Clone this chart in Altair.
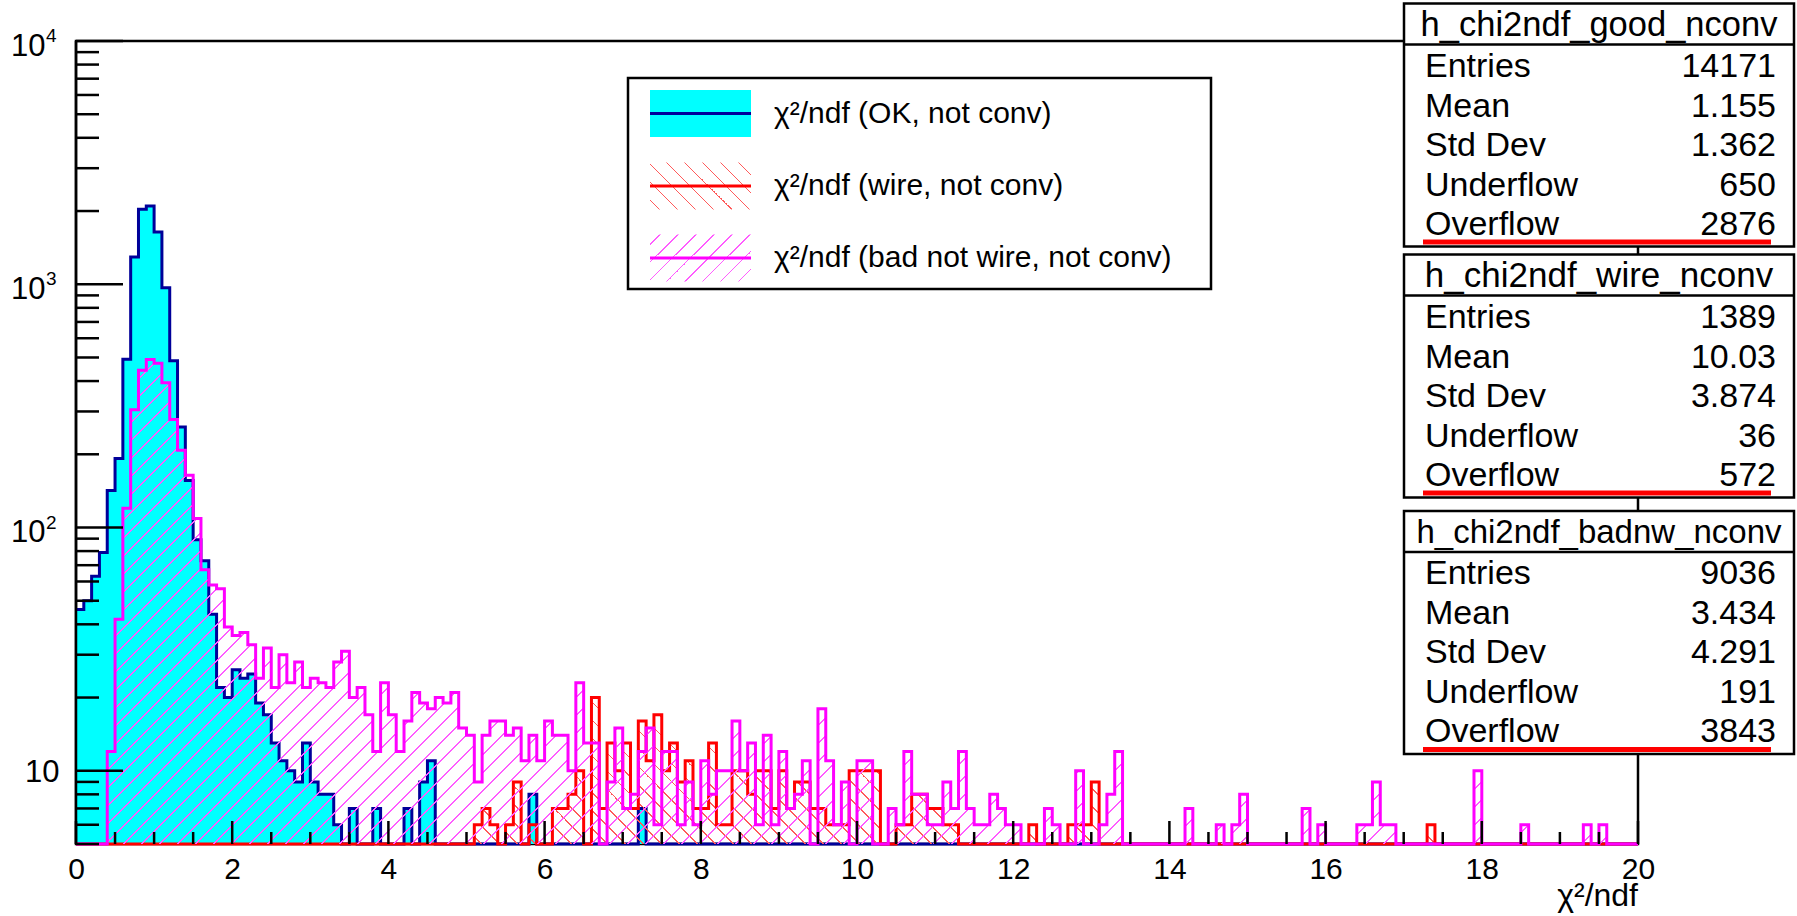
import altair as alt
import numpy as np
import pandas as pd

FONT = "Liberation Sans"

# ---------------- data (counts per 0.1-wide bin, 0 .. 20) ----------------
x_min, x_max, n_bins = 0.0, 20.0, 200
y_min, y_max = 5.0, 1.0e4

good_counts = [
    46, 50, 63, 79, 142, 192, 492, 1294, 2032, 2096, 1640, 968, 485, 259, 156, 89, 73, 44, 22, 20,
    26, 24, 25, 19, 17, 13, 11, 10, 9, 13, 9, 8, 8, 6, 0, 7, 0, 0, 7, 0,
    0, 0, 7, 0, 9, 11, 0, 0, 0, 0, 0, 0, 0, 0, 0, 0, 0, 0, 8, 0,
    0, 0, 0, 0, 0, 0, 0, 0, 0, 0, 0, 0, 7, 0, 0, 0, 0, 0, 0, 0,
    0, 0, 0, 0, 0, 0, 0, 0, 0, 0, 0, 0, 0, 0, 0, 0, 0, 0, 0, 0,
    0, 0, 0, 0, 0, 0, 0, 0, 0, 0, 0, 0, 0, 0, 0, 0, 0, 0, 0, 0,
    0, 0, 0, 0, 0, 0, 0, 0, 0, 0, 0, 0, 0, 0, 0, 0, 0, 0, 0, 0,
    0, 0, 0, 0, 0, 0, 0, 0, 0, 0, 0, 0, 0, 0, 0, 0, 0, 0, 0, 0,
    0, 0, 0, 0, 0, 0, 0, 0, 0, 0, 0, 0, 0, 0, 0, 0, 0, 0, 0, 0,
    0, 0, 0, 0, 0, 0, 0, 0, 0, 0, 0, 0, 0, 0, 0, 0, 0, 0, 0, 0,
]

wire_counts = [
    0, 0, 0, 0, 0, 0, 0, 0, 0, 0, 0, 0, 0, 0, 0, 0, 0, 0, 0, 0,
    0, 0, 0, 0, 0, 0, 0, 0, 0, 0, 0, 0, 0, 0, 0, 0, 0, 0, 0, 0,
    0, 0, 0, 0, 0, 0, 0, 0, 0, 0, 0, 6, 7, 6, 0, 6, 9, 0, 6, 0,
    0, 7, 7, 8, 10, 0, 20, 7, 13, 10, 13, 7, 16, 11, 17, 10, 13, 9, 11, 7,
    7, 13, 6, 6, 10, 10, 8, 10, 10, 7, 10, 7, 9, 9, 7, 7, 6, 6, 6, 10,
    10, 10, 10, 0, 0, 6, 6, 8, 8, 7, 7, 6, 6, 0, 0, 0, 0, 0, 0, 0,
    0, 0, 6, 0, 0, 0, 0, 6, 6, 6, 9, 0, 0, 0, 0, 0, 0, 0, 0, 0,
    0, 0, 0, 0, 0, 0, 0, 0, 0, 0, 0, 0, 0, 0, 0, 0, 0, 0, 0, 0,
    0, 0, 0, 0, 0, 0, 0, 0, 0, 0, 0, 0, 0, 6, 0, 0, 0, 0, 0, 0,
    0, 0, 0, 0, 0, 0, 0, 0, 0, 0, 0, 0, 0, 0, 0, 0, 0, 0, 0, 0,
]

badnw_counts = [
    0, 0, 0, 0, 12, 42, 120, 305, 443, 490, 474, 394, 278, 208, 164, 109, 67, 58, 56, 39,
    36, 37, 33, 24, 32, 22, 30, 23, 28, 22, 24, 23, 22, 28, 31, 20, 22, 17, 12, 23,
    17, 12, 16, 21, 19, 18, 20, 19, 21, 15, 14, 9, 14, 16, 16, 14, 15, 11, 14, 11,
    16, 14, 14, 10, 23, 13, 13, 0, 9, 15, 7, 8, 12, 15, 6, 12, 12, 6, 9, 6,
    11, 8, 10, 10, 16, 10, 13, 6, 14, 6, 12, 7, 8, 11, 0, 18, 11, 6, 9, 0,
    11, 11, 0, 0, 7, 6, 12, 8, 8, 6, 6, 9, 7, 12, 7, 6, 6, 8, 7, 6,
    6, 0, 0, 0, 7, 6, 0, 0, 10, 0, 0, 6, 8, 12, 0, 0, 0, 0, 0, 0,
    0, 0, 7, 0, 0, 0, 6, 0, 6, 8, 0, 0, 0, 0, 0, 0, 0, 7, 0, 6,
    0, 0, 0, 0, 6, 6, 9, 6, 6, 0, 0, 0, 0, 0, 0, 0, 0, 0, 0, 10,
    0, 0, 0, 0, 0, 6, 0, 0, 0, 0, 0, 0, 0, 6, 0, 6, 0, 0, 0, 0,
]

legend_labels = ["\u03c7\u00b2/ndf (OK, not conv)",
                 "\u03c7\u00b2/ndf (wire, not conv)",
                 "\u03c7\u00b2/ndf (bad not wire, not conv)"]

stat_titles = ["h_chi2ndf_good_nconv", "h_chi2ndf_wire_nconv", "h_chi2ndf_badnw_nconv"]
stat_names = ["Entries", "Mean", "Std Dev", "Underflow", "Overflow"]
stat_values = [
    ["14171", "1.155", "1.362", "650", "2876"],
    ["1389", "10.03", "3.874", "36", "572"],
    ["9036", "3.434", "4.291", "191", "3843"],
]

x_major_ticks = [0, 2, 4, 6, 8, 10, 12, 14, 16, 18, 20]
x_minor_ticks = [v / 2 for v in range(41) if v % 4 != 0]
y_major_ticks = [10, 100, 1000, 10000]
y_minor_ticks = [5, 6, 7, 8, 9] + [m * 10 ** k for k in (1, 2, 3) for m in range(2, 10)]

# ---------------- layout ----------------
OX, OY = 76, 41          # plot origin on the page
W, H = 1562, 803         # plot size
CYAN, NAVY, RED, MAG = "#00FFFF", "#000099", "#FF0000", "#FF00FF"
LW = 3.0

xscale = alt.Scale(domain=[x_min, x_max], nice=False, zero=False)
yscale = alt.Scale(type="log", domain=[y_min, y_max], nice=False)
XAX = alt.Axis(values=x_major_ticks, ticks=False, tickSize=0, domain=False, grid=False,
               labelFontSize=30, labelFont=FONT, labelColor="black", labelPadding=10,
               labelFlush=False, labelBound=False, title=None)

one = pd.DataFrame({"k": [0]})


def ypix(v):
    return H * (np.log10(y_max) - np.log10(v)) / (np.log10(y_max) - np.log10(y_min))


def step_df(counts):
    edges = np.arange(n_bins + 1) * (x_max - x_min) / n_bins + x_min
    vals = np.maximum(np.array(list(counts) + [counts[-1]], dtype=float), y_min)
    return pd.DataFrame({"x": np.round(edges, 4), "v": vals, "b": y_min})


def hatch(color, w, h, backslash=False, period=18.0, lw=1.5):
    L = w + h
    c = L / (w * w + h * h)
    if backslash:
        x1, y1, x2, y2 = 0.0, 1.0, c * w, 1.0 - c * h
    else:
        x1, y1, x2, y2 = 0.0, 0.0, c * w, c * h
    clear = "rgba(255,255,255,0)"
    stops = [alt.GradientStop(offset=0.0, color=clear)]
    k = 0
    while True:
        t0 = (period * 0.5 + k * period) / L
        t1 = t0 + lw / L
        if t1 >= 1.0:
            break
        stops += [alt.GradientStop(offset=t0, color=clear), alt.GradientStop(offset=t0, color=color),
                  alt.GradientStop(offset=t1, color=color), alt.GradientStop(offset=t1, color=clear)]
        k += 1
    stops.append(alt.GradientStop(offset=1.0, color=clear))
    return alt.LinearGradient(gradient="linear", stops=stops, x1=x1, y1=y1, x2=x2, y2=y2)


def hist_area(counts, fill):
    return alt.Chart(step_df(counts)).mark_area(interpolate="step-after", fill=fill, opacity=1).encode(
        x=alt.X("x:Q", scale=xscale, axis=XAX),
        y=alt.Y("v:Q", scale=yscale, axis=None),
        y2=alt.Y2("b:Q"),
    )


def hist_line(counts, color):
    return alt.Chart(step_df(counts)).mark_line(interpolate="step-after", color=color, strokeWidth=LW,
                                                strokeJoin="miter").encode(
        x=alt.X("x:Q", scale=xscale, axis=XAX),
        y=alt.Y("v:Q", scale=yscale, axis=None),
    )


def txt(s, x, y, size, align="left", baseline="alphabetic"):
    return alt.Chart(one).mark_text(text=s, align=align, baseline=baseline, font=FONT, fontSize=size,
                                    color="black").encode(x=alt.value(x), y=alt.value(y))


def box(x0, y0, x1, y1, fill="white", stroke=True, sw=2.5):
    kw = dict(fill=fill, opacity=1)
    if stroke:
        kw.update(stroke="black", strokeWidth=sw)
    return alt.Chart(one).mark_rect(**kw).encode(x=alt.value(x0), x2=alt.value(x1),
                                                 y=alt.value(y0), y2=alt.value(y1))


def seg(x0, y0, x1, y1, color="black", sw=2.5):
    return alt.Chart(one).mark_rule(color=color, strokeWidth=sw).encode(
        x=alt.value(x0), x2=alt.value(x1), y=alt.value(y0), y2=alt.value(y1))


layers = []

# histograms: good (filled cyan), wire (red \\\ hatch), bad-not-wire (magenta /// hatch)
layers.append(hist_area(good_counts, CYAN))
layers.append(hist_line(good_counts, NAVY))
red_h = H - ypix(max(max(wire_counts), y_min))
layers.append(hist_area(wire_counts, hatch("#FF5A5A", W, red_h, backslash=True)))
layers.append(hist_line(wire_counts, RED))
mag_h = H - ypix(max(max(badnw_counts), y_min))
layers.append(hist_area(badnw_counts, hatch("#FF5CFF", W, mag_h)))
layers.append(hist_line(badnw_counts, MAG))

# left axis line on top of the fill
layers.append(seg(0, 0, 0, H))

# ticks (drawn inward, ROOT style)
def xticks(vals, length):
    return alt.Chart(pd.DataFrame({"t": vals})).mark_rule(color="black", strokeWidth=2.5).encode(
        x=alt.X("t:Q", scale=xscale, axis=XAX), y=alt.value(H), y2=alt.value(H - length))


def yticks(vals, length):
    return alt.Chart(pd.DataFrame({"t": vals})).mark_rule(color="black", strokeWidth=2.5).encode(
        y=alt.Y("t:Q", scale=yscale, axis=None), x=alt.value(0), x2=alt.value(length))


layers += [xticks(x_major_ticks, 23), xticks(x_minor_ticks, 12),
           yticks(y_major_ticks, 47), yticks(y_minor_ticks, 23)]

# y labels: 10, 10^2, 10^3, 10^4
sup_df = pd.DataFrame({"v": y_major_ticks[1:], "sup": ["2", "3", "4"]})
layers.append(alt.Chart(sup_df).mark_text(text="10", align="right", baseline="alphabetic", dy=14.5,
                                          font=FONT, fontSize=31, color="black").encode(
    y=alt.Y("v:Q", scale=yscale, axis=None), x=alt.value(-30.5)))
layers.append(alt.Chart(sup_df).mark_text(align="left", baseline="alphabetic", dy=1, font=FONT,
                                          fontSize=19, color="black").encode(
    y=alt.Y("v:Q", scale=yscale, axis=None), x=alt.value(-30), text="sup:N"))
layers.append(alt.Chart(pd.DataFrame({"v": y_major_ticks[:1]})).mark_text(
    text="10", align="right", baseline="alphabetic", dy=11, font=FONT, fontSize=31, color="black").encode(
    y=alt.Y("v:Q", scale=yscale, axis=None), x=alt.value(-16.5)))

# x-axis title
layers.append(txt("\u03c7\u00b2/ndf", W, 906 - OY, 32, align="right"))

# legend
lx0, ly0, lx1, ly1 = 628 - OX, 78 - OY, 1211 - OX, 289 - OY
layers.append(box(lx0, ly0, lx1, ly1))
sx0, sx1 = 650 - OX, 751 - OX
centers = [113.5 - OY, 186 - OY, 258 - OY]
sh = 23.5
layers.append(box(sx0, centers[0] - sh, sx1, centers[0] + sh, fill=CYAN, stroke=False))
layers.append(seg(sx0, centers[0], sx1, centers[0], NAVY, 3))
layers.append(box(sx0, centers[1] - sh, sx1, centers[1] + sh,
                  fill=hatch("#FF5A5A", sx1 - sx0, 2 * sh, backslash=True), stroke=False))
layers.append(seg(sx0, centers[1], sx1, centers[1], RED, 3))
layers.append(box(sx0, centers[2] - sh, sx1, centers[2] + sh,
                  fill=hatch("#FF5CFF", sx1 - sx0, 2 * sh), stroke=False))
layers.append(seg(sx0, centers[2], sx1, centers[2], MAG, 3))
for lab, cy in zip(legend_labels, centers):
    layers.append(txt(lab, 774 - OX, cy, 30, baseline="middle"))

# stats boxes
bx0, bx1 = 1404 - OX, 1794 - OX
tops = [3.5 - OY, 254.5 - OY, 511 - OY]
bh = 243
title_sizes = [34.5, 35, 33]
row_off = [73, 113, 152, 192, 231]
for b in range(3):
    t = tops[b]
    layers.append(box(bx0, t, bx1, t + bh))
    layers.append(seg(bx0, t + 41, bx1, t + 41))
    layers.append(txt(stat_titles[b], (bx0 + bx1) / 2, t + 32, title_sizes[b], align="center"))
    for r in range(5):
        layers.append(txt(stat_names[r], 1425 - OX, t + row_off[r], 34))
        layers.append(txt(stat_values[b][r], 1776 - OX, t + row_off[r], 34, align="right"))
    layers.append(seg(1423 - OX, t + 238.5, 1771 - OX, t + 238.5, RED, 5))

chart = alt.layer(*layers).properties(
    width=W, height=H,
    padding={"left": OX, "top": OY, "right": 1797 - OX - W, "bottom": 916 - OY - H},
    autosize=alt.AutoSizeParams(type="none"),
    background="white",
).configure_view(stroke="black", strokeWidth=2.5)

chart.save("out.html", embed_options={"renderer": "svg", "actions": False})
